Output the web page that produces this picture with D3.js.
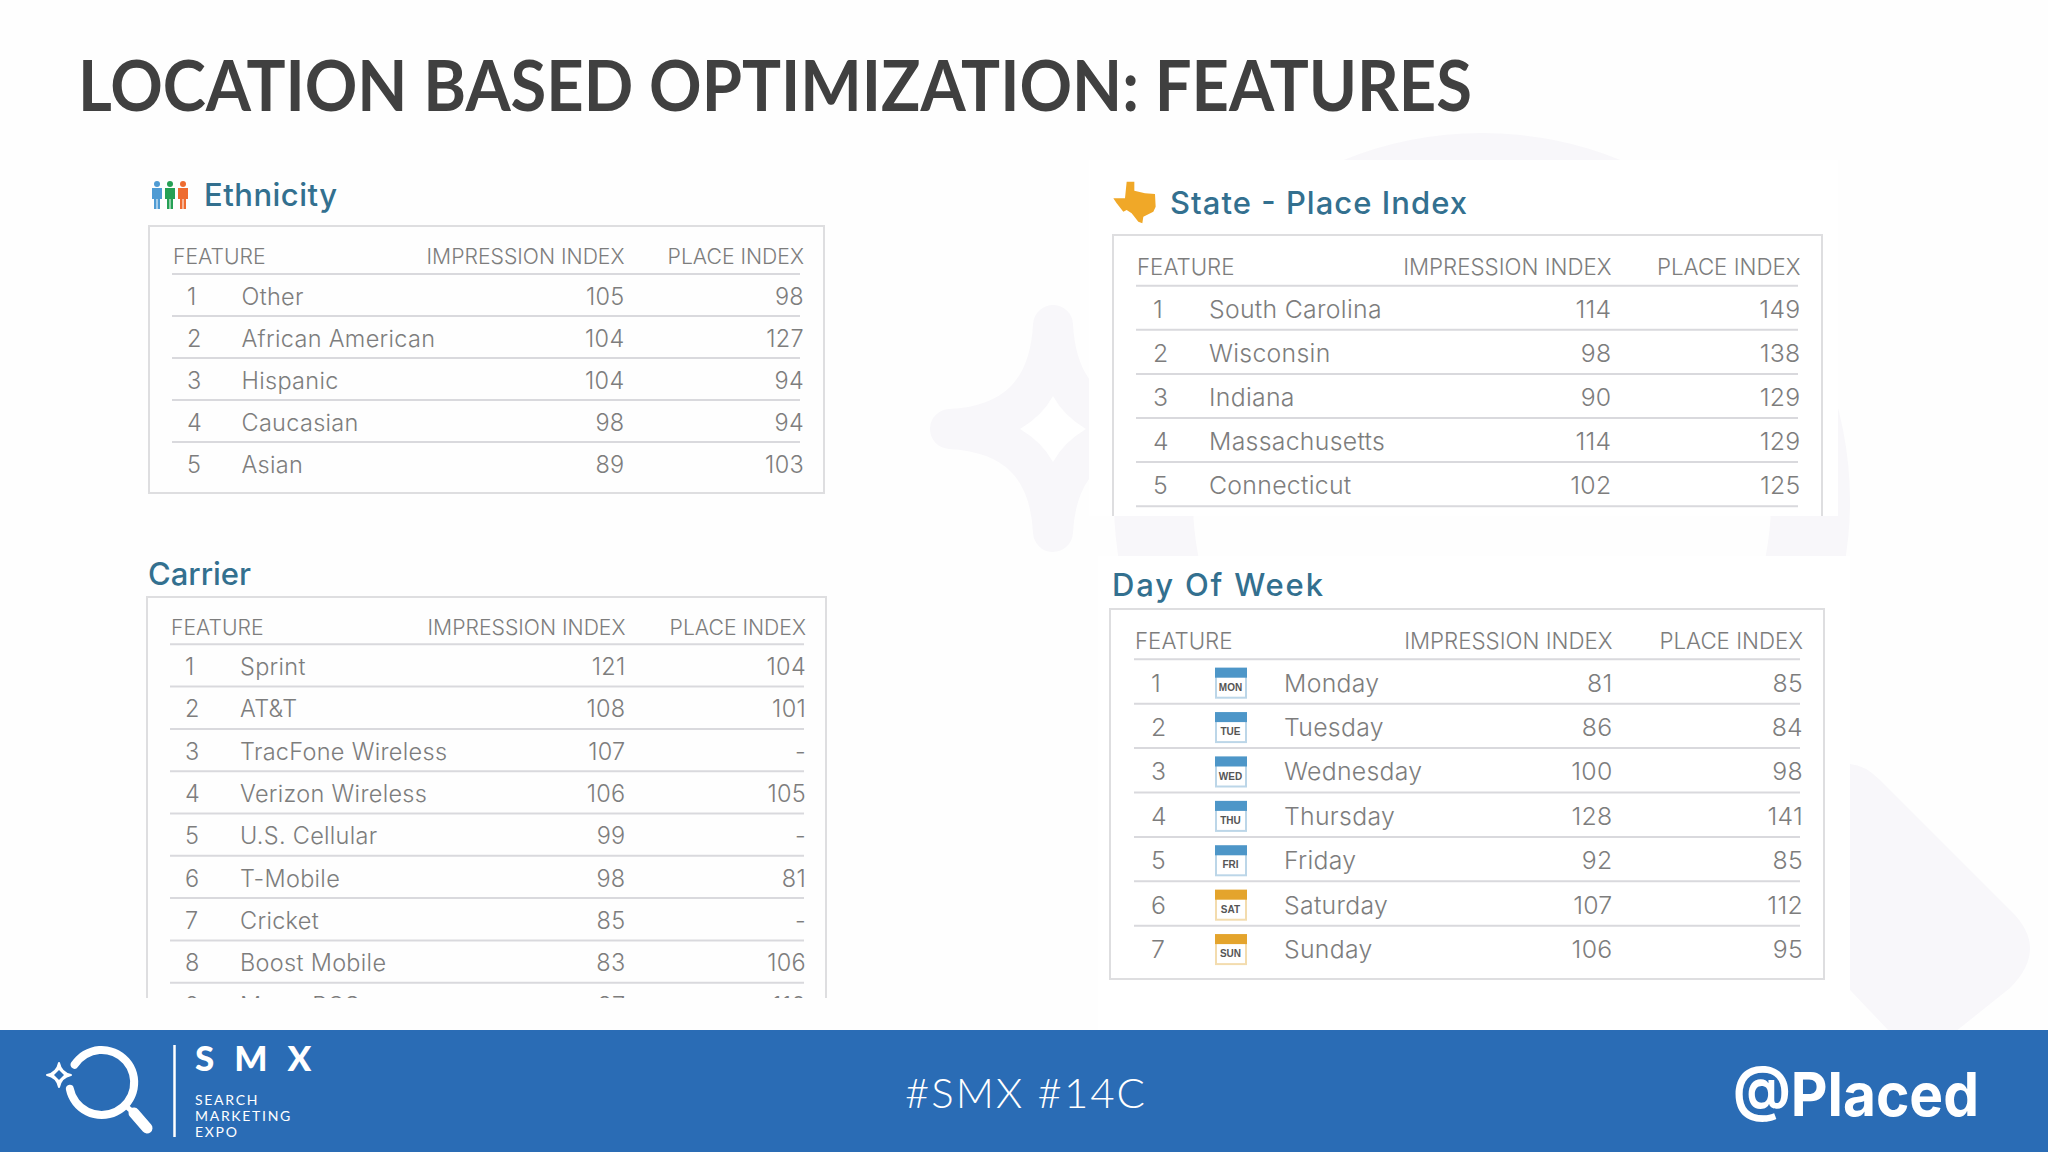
<!DOCTYPE html>
<html>
<head>
<meta charset="utf-8">
<script src="https://cdn.jsdelivr.net/npm/d3@7"></script>
<style>
  html, body { margin: 0; padding: 0; background: #fefefe; }
  svg { display: block; }
  text { font-family: Inter, sans-serif; }
</style>
</head>
<body>
<div id="chart"></div>
<script>
var pageTitle = "LOCATION BASED OPTIMIZATION: FEATURES";
var headerLabels = ["FEATURE", "IMPRESSION INDEX", "PLACE INDEX"];

var ethnicityNames = ["Other", "African American", "Hispanic", "Caucasian", "Asian"];
var ethnicityImpression = [105, 104, 104, 98, 89];
var ethnicityPlace = [98, 127, 94, 94, 103];

var carrierNames = ["Sprint", "AT&T", "TracFone Wireless", "Verizon Wireless", "U.S. Cellular", "T-Mobile", "Cricket", "Boost Mobile", "Metro PCS"];
var carrierImpression = [121, 108, 107, 106, 99, 98, 85, 83, 87];
var carrierPlace = [104, 101, null, 105, null, 81, null, 106, 110];

var stateNames = ["South Carolina", "Wisconsin", "Indiana", "Massachusetts", "Connecticut"];
var stateImpression = [114, 98, 90, 114, 102];
var statePlace = [149, 138, 129, 129, 125];

var dayNames = ["Monday", "Tuesday", "Wednesday", "Thursday", "Friday", "Saturday", "Sunday"];
var dayIcons = ["MON", "TUE", "WED", "THU", "FRI", "SAT", "SUN"];
var dayImpression = [81, 86, 100, 128, 92, 107, 106];
var dayPlace = [85, 84, 98, 141, 85, 112, 95];

var width = 2048,
  height = 1152;

var textColor = "#7d7d7d",
  titleColor = "#33708f",
  ruleColor = "#d9d9dd",
  boxColor = "#dedee0",
  faint = "#f8f7fa",
  footerColor = "#2a6cb5";

var svg = d3.select("#chart").append("svg")
  .attr("width", width)
  .attr("height", height);

svg.append("rect")
  .attr("width", width)
  .attr("height", height)
  .style("fill", "#fefefe");

// faint giant logo behind the tables
var defs = svg.append("defs");
defs.append("clipPath").attr("id", "starClip")
  .append("rect").attr("x", 900).attr("y", 280).attr("width", 189).attr("height", 300);

var water = svg.append("g");

water.append("path")
  .attr("transform", "translate(1482,501)")
  .attr("d", d3.arc().innerRadius(289).outerRadius(368).startAngle(0).endAngle(2 * Math.PI)())
  .style("fill", faint);

water.append("path")
  .attr("clip-path", "url(#starClip)")
  .attr("d", "M1053,325 Q1058,424 1156,429 Q1058,434 1053,532 Q1048,434 950,429 Q1048,424 1053,325 Z")
  .style("fill", faint)
  .style("stroke", faint)
  .style("stroke-width", 40)
  .style("stroke-linejoin", "round");

water.append("path")
  .attr("d", "M1053,396 Q1064,416 1086,429 Q1064,442 1053,462 Q1042,442 1020,429 Q1042,416 1053,396 Z")
  .style("fill", "#ffffff");

water.append("path")
  .attr("d", "M1850,764 Q1865,765 1880,780 L2010,910 Q2050,948 2010,988 L1955,1032 L1890,1032 L1850,990 Z")
  .style("fill", faint);

// the two right hand tables are pasted images with white backgrounds
svg.append("rect").attr("x", 1089).attr("y", 160).attr("width", 749).attr("height", 356).style("fill", "#fff");
svg.append("rect").attr("x", 1098).attr("y", 556).attr("width", 752).attr("height", 474).style("fill", "#fff");

svg.append("text")
  .text(pageTitle)
  .attr("x", 78)
  .attr("y", 111)
  .attr("textLength", 1394)
  .attr("lengthAdjust", "spacingAndGlyphs")
  .style("font-family", "Lato")
  .style("font-size", "71px")
  .style("font-weight", 700)
  .style("fill", "#404040");

function drawTable(t) {
  var g = svg.append("g");
  var id = "clip" + t.key;
  var n = t.names.length;

  defs.append("clipPath").attr("id", id)
    .append("rect")
    .attr("x", t.box[0] - 3)
    .attr("y", t.box[1] - 3)
    .attr("width", t.box[2] - t.box[0] + 6)
    .attr("height", t.box[3] - t.box[1] + 6);
  g.attr("clip-path", "url(#" + id + ")");

  var y = d3.scaleBand()
    .domain(d3.range(n))
    .range([t.headLine, t.headLine + n * t.rowH]);

  // box, open at the bottom when the table was cut off
  g.append("path")
    .attr("d", "M" + t.box[0] + "," + (t.box[3] + (t.open ? 10 : 0)) +
      "V" + t.box[1] + "H" + t.box[2] + "V" + (t.box[3] + (t.open ? 10 : 0)) +
      (t.open ? "" : "Z"))
    .style("fill", "none")
    .style("stroke", boxColor)
    .style("stroke-width", 2);

  g.selectAll(".head")
    .data(headerLabels)
    .enter().append("text")
    .text(function(d) { return d; })
    .attr("x", function(d, i) { return [t.lineX[0] + 1, t.imprX, t.placeX][i]; })
    .attr("y", t.headY)
    .attr("dy", "0.36em")
    .attr("text-anchor", function(d, i) { return i ? "end" : "start"; })
    .style("font-size", t.headSize + "px")
    .style("font-weight", 300)
    .style("fill", textColor);

  var lines = [-1].concat(d3.range(t.lastRule ? n : n - 1));
  g.selectAll(".rule")
    .data(lines)
    .enter().append("line")
    .attr("x1", t.lineX[0])
    .attr("x2", t.lineX[1])
    .attr("y1", function(d) { return d < 0 ? t.headLine : y(d) + y.bandwidth(); })
    .attr("y2", function(d) { return d < 0 ? t.headLine : y(d) + y.bandwidth(); })
    .style("stroke", ruleColor)
    .style("stroke-width", 2);

  var rows = g.selectAll(".row")
    .data(t.names)
    .enter().append("g")
    .attr("transform", function(d, i) { return "translate(0," + (y(i) + y.bandwidth() / 2 + 1.2) + ")"; });

  function cell(xPos, anchor, fn) {
    rows.append("text")
      .text(fn)
      .attr("x", xPos)
      .attr("dy", "0.36em")
      .attr("text-anchor", anchor)
      .style("font-size", t.size + "px")
      .style("font-weight", 300)
      .style("letter-spacing", "0.3px")
      .style("fill", textColor);
  }

  cell(t.rankX, "start", function(d, i) { return i + 1; });
  cell(t.nameX, "start", function(d) { return d; });
  cell(t.imprX, "end", function(d, i) { return t.impression[i]; });
  cell(t.placeX, "end", function(d, i) { return t.place[i] === null ? "-" : t.place[i]; });

  if (t.icons) {
    var icon = rows.append("g").attr("transform", "translate(" + t.iconX + ",-15)");
    icon.append("rect")
      .attr("x", 1).attr("y", 1).attr("width", 30).attr("height", 29)
      .style("fill", "#fff")
      .style("stroke", function(d, i) { return i < 5 ? "#bcd6e8" : "#f3dcae"; })
      .style("stroke-width", 2);
    icon.append("rect")
      .attr("width", 32).attr("height", 10)
      .style("fill", function(d, i) { return i < 5 ? "#4d96c8" : "#e4a42c"; });
    icon.append("text")
      .text(function(d, i) { return t.icons[i]; })
      .attr("x", 15.5)
      .attr("y", 23)
      .attr("text-anchor", "middle")
      .style("font-family", "'Liberation Sans'")
      .style("font-size", "10px")
      .style("font-weight", 700)
      .style("fill", "#555");
  }
}

function sectionTitle(text, x, y, w) {
  svg.append("text")
    .text(text)
    .attr("x", x)
    .attr("y", y)
    .attr("dy", "0.36em")
    .attr("textLength", w)
    .attr("lengthAdjust", "spacing")
    .style("font-size", "31px")
    .style("font-weight", 500)
    .style("fill", titleColor);
}

sectionTitle("Ethnicity", 204, 195, 133);
sectionTitle("Carrier", 148, 574, 103);
sectionTitle("State - Place Index", 1170, 203, 297);
sectionTitle("Day Of Week", 1112, 585, 211);

drawTable({
  key: "eth", names: ethnicityNames, impression: ethnicityImpression, place: ethnicityPlace,
  box: [149, 226, 824, 493], headY: 256.5, headLine: 274, rowH: 42, lineX: [172, 800],
  rankX: 187, nameX: 241.5, imprX: 624.5, placeX: 804, size: 23.5, headSize: 21.2
});
drawTable({
  key: "car", names: carrierNames, impression: carrierImpression, place: carrierPlace,
  box: [147, 597, 826, 995], open: true, lastRule: true, headY: 627, headLine: 644.3, rowH: 42.3, lineX: [170, 804],
  rankX: 185, nameX: 240, imprX: 625.5, placeX: 806, size: 23.5, headSize: 21.2
});
drawTable({
  key: "sta", names: stateNames, impression: stateImpression, place: statePlace,
  box: [1113, 235, 1822, 513], open: true, lastRule: true, headY: 267, headLine: 285.7, rowH: 44.1, lineX: [1136, 1798],
  rankX: 1153, nameX: 1209, imprX: 1611.5, placeX: 1800.5, size: 24.8, headSize: 22.3
});
drawTable({
  key: "day", names: dayNames, icons: dayIcons, impression: dayImpression, place: dayPlace,
  box: [1110, 609, 1824, 979], headY: 641, headLine: 659.3, rowH: 44.4, lineX: [1134, 1800],
  rankX: 1151, iconX: 1215, nameX: 1284, imprX: 1612.5, placeX: 1803, size: 24.8, headSize: 22.3
});

// little icons next to the section titles
var people = ["#4f9bd3", "#25a055", "#ee6c30"];
var peopleG = svg.selectAll(".person")
  .data(people)
  .enter().append("g")
  .attr("transform", function(d, i) { return "translate(" + (157 + i * 13) + ",181)"; })
  .style("fill", function(d) { return d; });
peopleG.append("circle").attr("cy", 3).attr("r", 3);
peopleG.append("path")
  .attr("d", "M-5,7 H5 V18 H3 V28 H0.5 V18 H-0.5 V28 H-3 V18 H-5 Z");

svg.append("path")
  .attr("transform", "translate(1105,170) scale(0.3333)")
  .attr("d", "M65,35 L88,35 L88,62 L120,70 L150,72 L152,110 L145,125 L115,140 L112,160 L100,155 L80,130 L65,120 L55,125 L35,100 L25,85 L60,85 Z")
  .style("fill", "#f0a828");

// footer
svg.append("rect")
  .attr("y", 1030)
  .attr("width", width)
  .attr("height", 122)
  .style("fill", footerColor);

var logo = svg.append("g");
var deg = Math.PI / 180;
logo.append("path")
  .attr("transform", "translate(101.7,1082.5)")
  .attr("d", d3.arc().innerRadius(28.5).outerRadius(36.5).startAngle(-64 * deg).endAngle(266 * deg).cornerRadius(4)())
  .style("fill", "#fff");
logo.append("line")
  .attr("x1", 127).attr("y1", 1107).attr("x2", 134).attr("y2", 1113)
  .style("stroke", "#fff").style("stroke-width", 5);
logo.append("line")
  .attr("x1", 134).attr("y1", 1113).attr("x2", 147).attr("y2", 1128)
  .style("stroke", "#fff").style("stroke-width", 11).style("stroke-linecap", "round");
logo.append("path")
  .attr("d", "M59,1063 Q61,1073 71,1075 Q61,1077 59,1087 Q57,1077 47,1075 Q57,1073 59,1063 Z")
  .style("fill", "#fff")
  .style("stroke", "#fff")
  .style("stroke-width", 2)
  .style("stroke-linejoin", "round");
logo.append("path")
  .attr("d", "M59,1070 L64,1075 L59,1080 L54,1075 Z")
  .style("fill", footerColor);
logo.append("line")
  .attr("x1", 174.5).attr("y1", 1045).attr("x2", 174.5).attr("y2", 1137)
  .style("stroke", "#fff").style("stroke-width", 2.5);

logo.append("text")
  .text("SMX")
  .attr("x", 195)
  .attr("y", 1071)
  .style("font-family", "Lato")
  .style("font-size", "35px")
  .style("font-weight", 900)
  .style("letter-spacing", "20px")
  .style("fill", "#fff");

logo.selectAll(".sub")
  .data(["SEARCH", "MARKETING", "EXPO"])
  .enter().append("text")
  .text(function(d) { return d; })
  .attr("x", 195)
  .attr("y", function(d, i) { return 1105 + i * 16.2; })
  .style("font-family", "Lato")
  .style("font-size", "14px")
  .style("letter-spacing", "1.7px")
  .style("fill", "#fff");

svg.append("text")
  .text("#SMX #14C")
  .attr("x", 1026)
  .attr("y", 1108)
  .attr("text-anchor", "middle")
  .style("font-family", "Lato")
  .style("font-size", "42px")
  .style("font-weight", 300)
  .style("letter-spacing", "2px")
  .style("fill", "#fff");

svg.append("text")
  .text("@Placed")
  .attr("x", 1733)
  .attr("y", 1115.5)
  .attr("textLength", 246)
  .attr("lengthAdjust", "spacingAndGlyphs")
  .style("font-size", "60px")
  .style("font-weight", 700)
  .style("fill", "#fff");
</script>
</body>
</html>
